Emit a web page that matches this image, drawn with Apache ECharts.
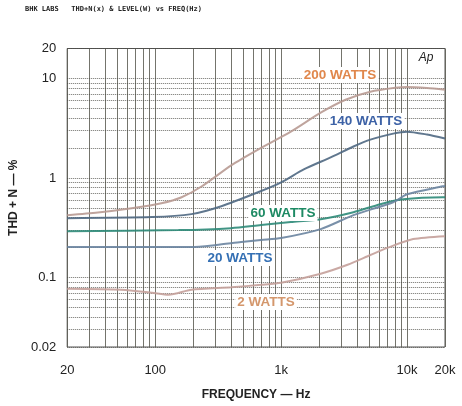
<!DOCTYPE html>
<html><head><meta charset="utf-8">
<script src="https://cdn.jsdelivr.net/npm/echarts@6/dist/echarts.min.js"></script>
<style>html,body{margin:0;padding:0;background:#fff}#c{width:462px;height:406px}</style>
</head><body><div id="c"></div>
<script>
// ---- data (frequency in Hz, THD+N in %) ----
const freq200 = [20, 35, 65, 112, 162, 233, 401, 655, 1194, 2060, 3245, 5108, 8050, 10000, 14400, 20000];
const thd200  = [0.423, 0.45, 0.497, 0.557, 0.64, 0.82, 1.34, 1.93, 2.92, 4.53, 6.11, 7.35, 8.05, 8.2, 8.0, 7.7];

const freq140 = [20, 94, 194, 335, 655, 1000, 1512, 2470, 3750, 5108, 7762, 10000, 14400, 20000];
const thd140  = [0.394, 0.404, 0.433, 0.52, 0.718, 0.904, 1.22, 1.61, 2.07, 2.43, 2.79, 2.92, 2.73, 2.49];

const freq60 = [20, 153, 401, 692, 1194, 2060, 3750, 6125, 9310, 19240, 20000];
const thd60  = [0.292, 0.299, 0.313, 0.336, 0.36, 0.385, 0.453, 0.545, 0.611, 0.64, 0.64];

const freq20 = [20, 194, 305, 481, 692, 1000, 2060, 3750, 7762, 10000, 19240, 20000];
const thd20  = [0.202, 0.202, 0.212, 0.227, 0.238, 0.249, 0.306, 0.423, 0.57, 0.685, 0.824, 0.83];

const freq2 = [20, 54, 94, 128, 194, 401, 692, 1000, 2060, 3366, 5108, 6955, 11170, 20000];
const thd2  = [0.0769, 0.0752, 0.0702, 0.067, 0.0752, 0.0796, 0.0843, 0.0883, 0.109, 0.134, 0.168, 0.198, 0.243, 0.26];

const seriesNames = ['200 WATTS', '140 WATTS', '60 WATTS', '20 WATTS', '2 WATTS'];

// grid / tick values
const xGridValues = [20,30,40,50,60,70,80,90,100,200,300,400,500,600,700,800,900,
  1000,2000,3000,4000,5000,6000,7000,8000,9000,10000,20000];
const yGridValues = [0.02,0.03,0.04,0.05,0.06,0.07,0.08,0.09,0.1,0.2,0.3,0.4,0.5,0.6,0.7,0.8,0.9,
  1,2,3,4,5,6,7,8,9,10,20];

function pairs(f, v) { return f.map((x, i) => [x, v[i]]); }

const chart = echarts.init(document.getElementById('c'), null, {renderer: 'canvas'});

const curveStyle = (color) => ({
  type: 'line', showSymbol: false, symbol: 'none', smooth: 0.25, z: 5,
  lineStyle: {color: color, width: 2, opacity: 0.9}
});

const option = {
  animation: false,
  backgroundColor: '#fff',
  grid: {left: 65, right: 17, top: 48.5, bottom: 57.5, show: true, borderColor: '#555', borderWidth: 1},
  xAxis: {
    type: 'log', logBase: 10, min: 20, max: 20000,
    name: 'FREQUENCY — Hz', nameLocation: 'middle', nameGap: 42,
    nameTextStyle: {fontFamily: 'Liberation Sans', fontWeight: 'bold', fontSize: 12, color: '#222'},
    axisLine: {show: false}, axisTick: {show: false}, splitLine: {show: false},
    axisLabel: {
      margin: 17, fontFamily: 'Liberation Sans', fontSize: 13, color: '#222',
      formatter: function (v) { v = Math.round(v); return v >= 1000 ? (v / 1000) + 'k' : String(v); }
    }
  },
  yAxis: {
    type: 'log', logBase: 10, min: 0.02, max: 20,
    name: 'THD + N — %', nameLocation: 'middle', nameGap: 43, nameRotate: 90,
    nameTextStyle: {fontFamily: 'Liberation Sans', fontWeight: 'bold', fontSize: 12, color: '#222'},
    axisLine: {show: false}, axisTick: {show: false}, splitLine: {show: false},
    axisLabel: {
      margin: 11, fontFamily: 'Liberation Sans', fontSize: 13, color: '#222',
      formatter: function (v) { return String(+(+v).toPrecision(3)); }
    }
  },
  series: [
    {
      type: 'line', data: [[20, 0.02]], symbol: 'none', silent: true, z: 1,
      lineStyle: {width: 0},
      markLine: {
        silent: true, symbol: 'none', animation: false,
        label: {show: false},
        data: xGridValues.map(v => ({xAxis: v, lineStyle: {color: '#5c5c52', width: 1, type: 'solid', opacity: 0.85}}))
          .concat(yGridValues.map(v => ({yAxis: v, lineStyle: {color: '#4a4a44', width: 1, type: [1, 1], opacity: 0.8}})))
      }
    },
    Object.assign(curveStyle('#b89a92'), {name: seriesNames[0], data: pairs(freq200, thd200)}),
    Object.assign(curveStyle('#4f6882'), {name: seriesNames[1], data: pairs(freq140, thd140)}),
    Object.assign(curveStyle('#2c8a78'), {name: seriesNames[2], data: pairs(freq60, thd60)}),
    Object.assign(curveStyle('#6a84a0'), {name: seriesNames[3], data: pairs(freq20, thd20)}),
    Object.assign(curveStyle('#c4a09a'), {name: seriesNames[4], data: pairs(freq2, thd2)})
  ],
  graphic: [
    {type: 'text', left: 25, top: 6, z: 10, style: {text: 'BHK LABS   THD+N(x) & LEVEL(W) vs FREQ(Hz)', font: 'bold 7px "DejaVu Sans Mono"', fill: '#222'}},
    {type: 'text', x: 426, y: 58, z: 10, style: {text: 'Ap', font: 'italic 12px "Liberation Sans"', fill: '#222', align: 'center', verticalAlign: 'middle', backgroundColor: '#fff'}},
    {type: 'text', x: 340, y: 75, z: 10, style: {text: seriesNames[0], font: 'bold 13.5px "Liberation Sans"', fill: '#e0874c', align: 'center', verticalAlign: 'middle', backgroundColor: '#fff', padding: [1, 2]}},
    {type: 'text', x: 366, y: 121, z: 10, style: {text: seriesNames[1], font: 'bold 13.5px "Liberation Sans"', fill: '#3d62a6', align: 'center', verticalAlign: 'middle', backgroundColor: '#fff', padding: [1, 2]}},
    {type: 'text', x: 283, y: 213, z: 10, style: {text: seriesNames[2], font: 'bold 13.5px "Liberation Sans"', fill: '#1e8a64', align: 'center', verticalAlign: 'middle', backgroundColor: '#fff', padding: [1, 2]}},
    {type: 'text', x: 240, y: 258, z: 10, style: {text: seriesNames[3], font: 'bold 13.5px "Liberation Sans"', fill: '#3570b4', align: 'center', verticalAlign: 'middle', backgroundColor: '#fff', padding: [1, 2]}},
    {type: 'text', x: 266, y: 302, z: 10, style: {text: seriesNames[4], font: 'bold 13.5px "Liberation Sans"', fill: '#d4976c', align: 'center', verticalAlign: 'middle', backgroundColor: '#fff', padding: [1, 2]}}
  ]
};
chart.setOption(option);
</script>
</body></html>
